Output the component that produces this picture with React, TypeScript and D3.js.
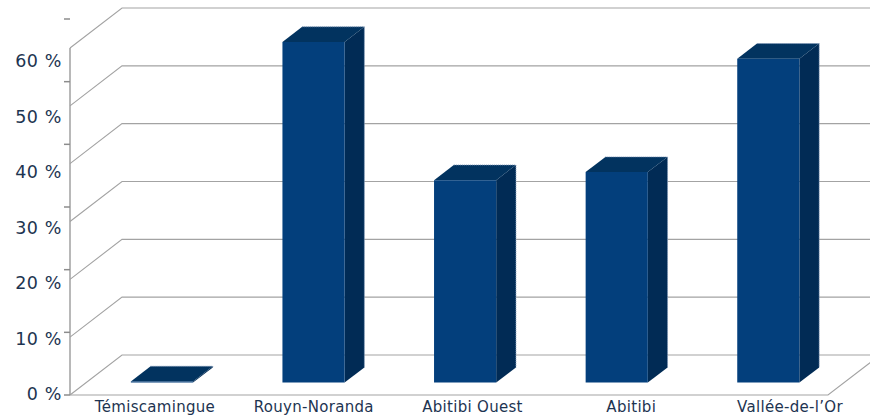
import React from "react";
import * as d3 from "d3";

const categories = ["Témiscamingue", "Rouyn-Noranda", "Abitibi Ouest", "Abitibi", "Vallée-de-l’Or"];
const values = [0.2, 58.9, 35.0, 36.4, 56.0];
const yTicks = [0, 10, 20, 30, 40, 50, 60];
const yTickLabels = ["0 %", "10 %", "20 %", "30 %", "40 %", "50 %", "60 %"];

const W = 870;
const H = 419;
const DX = 52;
const DY = -40;
const F1 = 0.31;
const F2 = 0.69;

export default function App() {
  const x = d3.scaleBand<string>().domain(categories).range([70, 828]);
  const yFront = d3.scaleLinear().domain([0, 60]).range([395, 48]);
  const yTickPos = d3.scaleLinear().domain([0, 60]).range([395, 19]);
  const yLabelPos = d3.scaleLinear().domain([0, 60]).range([395, 62]);
  const xLabel = d3.scalePoint<string>().domain(categories).range([155, 790]);

  const line = d3.line();
  const gridColor = "#a3a3a3";
  const textColor = "#1d3451";
  const barW = x.bandwidth() * 0.41;

  const proj = (px: number, v: number, f: number): [number, number] => [px + f * DX, yFront(v) + f * DY];

  return (
    <svg width={W} height={H} style={{ position: "absolute", left: 0, top: 0, background: "#fff" }}>
      {yTicks.map((t) => (
        <path
          key={"g" + t}
          d={line([
            [70, yFront(t)],
            [70 + DX, yFront(t) + DY],
            [W + 20, yFront(t) + DY],
          ]) || ""}
          fill="none"
          stroke={gridColor}
          strokeWidth={1.1}
        />
      ))}
      <path
        d={line([
          [70, yFront(0)],
          [828, yFront(0)],
          [828 + DX, yFront(0) + DY],
        ]) || ""}
        fill="none"
        stroke={gridColor}
        strokeWidth={1.1}
      />
      <line x1={70} x2={70} y1={yFront(60)} y2={yFront(0)} stroke="#a0a0a0" strokeWidth={1.5} />
      {yTicks.map((t) => (
        <line key={"t" + t} x1={64} x2={70} y1={yTickPos(t)} y2={yTickPos(t)} stroke="#8c8c8c" strokeWidth={1.5} />
      ))}
      {yTicks.map((t, i) => (
        <text
          key={"l" + t}
          x={62}
          y={yLabelPos(t)}
          textAnchor="end"
          dominantBaseline="middle"
          fontFamily="DejaVu Sans, Verdana, sans-serif"
          fontSize={17.5}
          letterSpacing={0.6}
          fill={textColor}
        >
          {yTickLabels[i]}
        </text>
      ))}
      {categories.map((c, i) => {
        const v = values[i];
        const x0 = (x(c) as number) + (x.bandwidth() - barW) / 2;
        const x1 = x0 + barW;
        const flt = proj(x0, v, F1);
        const frt = proj(x1, v, F1);
        const frb = proj(x1, 0, F1);
        const brt = proj(x1, v, F2);
        const brb = proj(x1, 0, F2);
        const blt = proj(x0, v, F2);
        const flb = proj(x0, 0, F1);
        return (
          <g key={"b" + c}>
            <path d={line([frt, brt, brb, frb]) + "Z"} fill="#012b55" />
            <path d={line([flt, frt, brt, blt]) + "Z"} fill="#02335f" />
            <path d={line([flt, frt, frb, flb]) + "Z"} fill="#033f7c" />
            <path
              d={line([blt, brt, brb]) || ""}
              fill="none"
              stroke="#7f98b8"
              strokeWidth={1}
              strokeDasharray="1,1"
            />
          </g>
        );
      })}
      {categories.map((c) => (
        <text
          key={"c" + c}
          x={xLabel(c)}
          y={407}
          textAnchor="middle"
          dominantBaseline="middle"
          fontFamily="DejaVu Sans, Verdana, sans-serif"
          fontSize={15}
          letterSpacing={0.3}
          fill={textColor}
        >
          {c}
        </text>
      ))}
    </svg>
  );
}
